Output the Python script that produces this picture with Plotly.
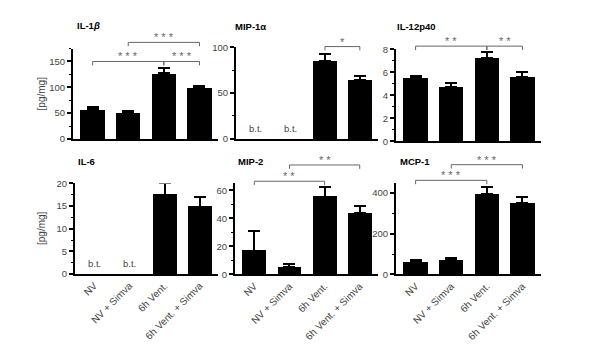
import plotly.graph_objects as go

# ---------------- data ----------------
categories = ["NV", "NV + Simva", "6h Vent.", "6h Vent. + Simva"]

il1b_mean = [57, 52, 127.5, 100]
il1b_err = [4, 1.5, 9, 3]

mip1a_mean = [None, None, 85, 64.5]
mip1a_err = [0, 0, 7.5, 4.5]

il12_mean = [5.47, 4.72, 7.24, 5.56]
il12_err = [0.2, 0.33, 0.54, 0.48]

il6_mean = [None, None, 17.5, 14.9]
il6_err = [0, 0, 2.6, 2.1]

mip2_mean = [17.1, 5.1, 55.4, 43.8]
mip2_err = [13.8, 2.3, 6.9, 5.1]

mcp1_mean = [62, 71, 395, 352]
mcp1_err = [8, 11, 33, 29]

titles = ["IL-1<i>β</i>", "MIP-1α", "IL-12p40", "IL-6", "MIP-2", "MCP-1"]
y_label = "[pg/mg]"
bt_label = "b.t."

# significance brackets: (from bar, to bar, height in data units, stars)
il1b_sig = [(0, 2, 150, "* * *"), (2, 3, 150, "* * *"), (1, 3, 187, "* * *")]
mip1a_sig = [(2, 3, 100.7, "*")]
il12_sig = [(0, 2, 8.28, "* *"), (2, 3, 8.28, "* *")]
il6_sig = []
mip2_sig = [(0, 2, 66.6, "* *"), (1, 3, 78.2, "* *")]
mcp1_sig = [(0, 2, 463, "* * *"), (1, 3, 540, "* * *")]

# ---------------- layout geometry (pixels) ----------------
W, H = 600, 348
panels = [
    dict(m=il1b_mean, e=il1b_err, s=il1b_sig, bt=None, ymax=175, dt=50, mn=25, x0=65, x1=210, yt=35.7, yb=129),
    dict(m=mip1a_mean, e=mip1a_err, s=mip1a_sig, bt=11, ymax=100, dt=50, mn=25, x0=228, x1=370, yt=34.3, yb=129),
    dict(m=il12_mean, e=il12_err, s=il12_sig, bt=None, ymax=8, dt=2, mn=1, x0=388, x1=533, yt=36.5, yb=131.5),
    dict(m=il6_mean, e=il6_err, s=il6_sig, bt=2.4, ymax=20, dt=5, mn=2.5, x0=67, x1=210, yt=175, yb=268.5),
    dict(m=mip2_mean, e=mip2_err, s=mip2_sig, bt=None, ymax=65, dt=20, mn=10, x0=227, x1=370, yt=175, yb=269),
    dict(m=mcp1_mean, e=mcp1_err, s=mcp1_sig, bt=None, ymax=450, dt=200, mn=100, x0=388, x1=533, yt=174.5, yb=269),
]
title_pos = [(67, 12), (225, 13), (387, 13), (68, 152), (228, 152), (390, 152)]
XR = (-0.55, 3.52)

FONT = "Liberation Sans, Arial, sans-serif"
GRAY = "#444444"
BR = "#666666"

fig = go.Figure()
shapes = []
annotations = []

for k, p in enumerate(panels):
    n = "" if k == 0 else str(k + 1)
    xa, ya = "x" + n, "y" + n
    fig.add_trace(go.Bar(
        x=categories, y=p["m"], width=0.68, marker=dict(color="black", line=dict(width=0)),
        error_y=dict(type="data", symmetric=False, array=p["e"], arrayminus=[0] * 4,
                     color="black", thickness=2, width=6),
        xaxis=xa, yaxis=ya, showlegend=False))
    dx = [p["x0"] / W, p["x1"] / W]
    dy = [1 - p["yb"] / H, 1 - p["yt"] / H]
    bottom = k >= 3
    fig.update_layout(**{
        ("xaxis" + n): dict(domain=dx, anchor=ya, type="category", range=list(XR),
                            showline=True, linecolor="black", linewidth=2, ticks="",
                            showticklabels=bottom, tickangle=-45, showgrid=False,
                            tickfont=dict(size=10, color=GRAY, family=FONT)),
        ("yaxis" + n): dict(domain=dy, anchor=xa, range=[0, p["ymax"]], dtick=p["dt"],
                            showline=True, linecolor="black", linewidth=2, ticks="outside",
                            ticklen=4, tickwidth=1.5, tickcolor="black", showgrid=False,
                            zeroline=False, tickfont=dict(size=9.5, color=GRAY, family=FONT),
                            minor=dict(ticks="outside", ticklen=2, tickwidth=1, dtick=p["mn"],
                                       tickcolor="black", showgrid=False)),
    })

    def xp(i, dx=dx):
        return dx[0] + (i - XR[0]) / (XR[1] - XR[0]) * (dx[1] - dx[0])

    def yp(v, p=p, dy=dy):
        return dy[0] + v / p["ymax"] * (dy[1] - dy[0])

    tick = 4 / H
    for (a, b, h, stars) in p["s"]:
        xa_, xb_, yh = xp(a), xp(b), yp(h)
        shapes.append(dict(type="path", xref="paper", yref="paper",
                           path=f"M {xa_},{yh - tick} L {xa_},{yh} L {xb_},{yh} L {xb_},{yh - tick}",
                           line=dict(color=BR, width=1)))
        annotations.append(dict(x=(xa_ + xb_) / 2, y=yh, xref="paper", yref="paper",
                                text=stars, showarrow=False, xanchor="center",
                                yanchor="bottom", yshift=-3,
                                font=dict(size=11, color=BR, family=FONT)))
    if p["bt"] is not None:
        for i in (0, 1):
            annotations.append(dict(x=xp(i), y=yp(p["bt"]), xref="paper", yref="paper",
                                    text=bt_label, showarrow=False, xanchor="center",
                                    yanchor="middle",
                                    font=dict(size=9.5, color=GRAY, family=FONT)))

for k, (tx, ty) in enumerate(title_pos):
    annotations.append(dict(x=tx / W, y=1 - ty / H, xref="paper", yref="paper",
                            text="<b>" + titles[k] + "</b>", showarrow=False,
                            xanchor="left", yanchor="middle",
                            font=dict(size=9.5, color="black", family=FONT)))

for yc in (82, 221):
    annotations.append(dict(x=33 / W, y=1 - yc / H, xref="paper", yref="paper",
                            text=y_label, showarrow=False, textangle=-90,
                            xanchor="center", yanchor="middle",
                            font=dict(size=10, color=GRAY, family=FONT)))

fig.update_layout(width=W, height=H, margin=dict(l=0, r=0, t=0, b=0),
                  plot_bgcolor="white", paper_bgcolor="white",
                  shapes=shapes, annotations=annotations, bargap=0,
                  font=dict(family=FONT))
fig.write_html("out.html")
